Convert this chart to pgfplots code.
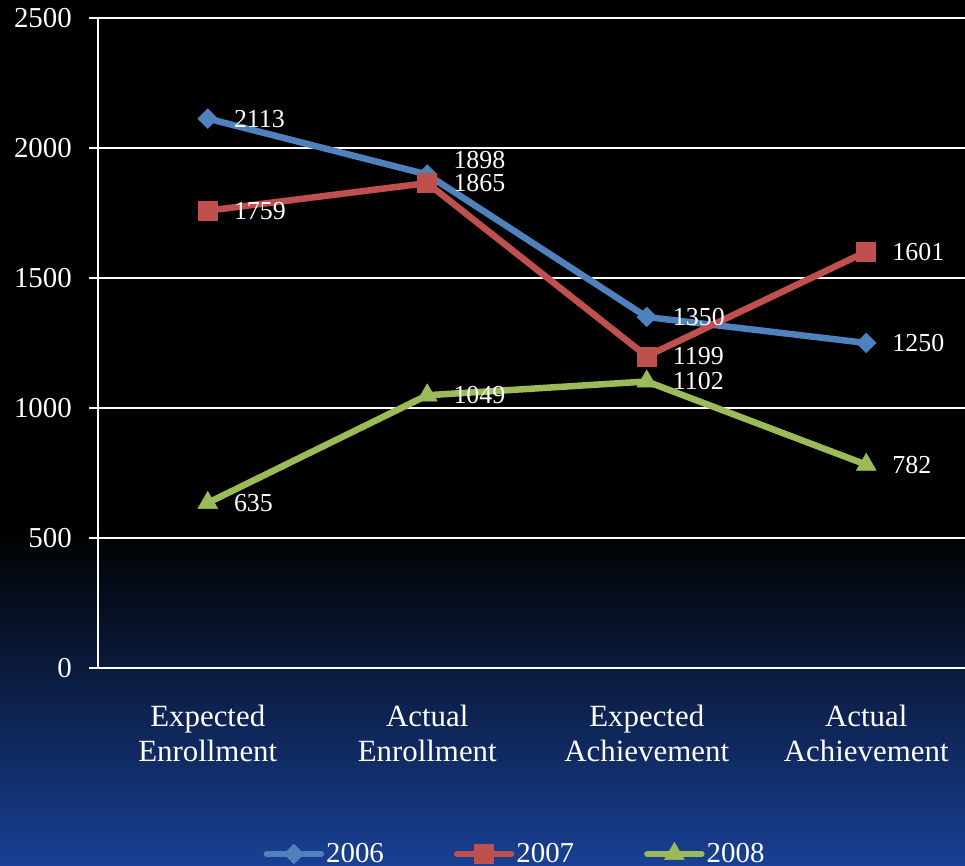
\documentclass[border=0pt]{standalone}
\usepackage{fontspec}
\setmainfont{Liberation Serif}
\usepackage{pgfplots}
\pgfplotsset{compat=1.18}
\usepackage{pgfplotstable}

\definecolor{s06}{RGB}{79,129,189}
\definecolor{s07}{RGB}{192,80,77}
\definecolor{s08}{RGB}{155,187,89}
\definecolor{bgblue}{RGB}{24,64,148}

% x = category index, dy = vertical shift of the data label
\pgfplotstableread{
x y dy
0 2113 0
1 1898 14
2 1350 0
3 1250 0
}\dataA
\pgfplotstableread{
x y dy
0 1759 0
1 1865 0
2 1199 0
3 1601 0
}\dataB
\pgfplotstableread{
x y dy
0 635 0
1 1049 0
2 1102 0
3 782 0
}\dataC

\begin{document}
\begin{tikzpicture}[x=1bp,y=1bp]
\path[use as bounding box] (0,0) rectangle (965,866);
\fill[black] (0,0) rectangle (965,866);
\shade[top color=black, bottom color=bgblue] (0,0) rectangle (965,336);
\begin{scope}
\clip (0,0) rectangle (965,866);
\begin{axis}[
  at={(98bp,198bp)}, anchor=south west,
  scale only axis, width=867bp, height=650bp,
  xmin=-0.5, xmax=3.45, ymin=0, ymax=2500,
  axis lines*=left,
  axis line style={white, line width=1.6bp},
  xtick={0,1,2,3},
  xticklabels={{Expected\\Enrollment},{Actual\\Enrollment},{Expected\\Achievement},{Actual\\Achievement}},
  minor xtick={-0.5,0.5,1.5,2.5,3.5},
  ytick={0,500,1000,1500,2000,2500},
  tick align=outside,
  major tick length=9bp,
  minor tick length=8bp,
  xtick style={draw=none},
  minor tick style={white, line width=1.6bp},
  ytick style={white, line width=1.6bp},
  ymajorgrids, grid style={white, line width=1.6bp},
  yticklabel style={font=\fontsize{29}{32}\selectfont, text=white, inner sep=0pt, anchor=east, xshift=-17bp},
  xticklabel style={font=\fontsize{31}{35}\selectfont, text=white, align=center, inner sep=0pt, anchor=north, yshift=-28bp},
  /pgf/number format/1000 sep={},
  /pgf/number format/assume math mode=true,
  every axis plot/.append style={line width=6.5bp, line join=round, line cap=round},
  nodes near coords,
  visualization depends on={\thisrow{dy} \as \dy},
  nodes near coords style={font=\fontsize{26}{28}\selectfont, text=white, anchor=west, inner sep=0pt, xshift=26bp, yshift=\dy bp},
  legend columns=3,
  legend style={at={(0.481,-0.286)}, anchor=center, fill=none, draw=none,
    font=\fontsize{29}{32}\selectfont, text=white, inner sep=0pt,
    /tikz/every even column/.append style={column sep=68bp}},
  legend image code/.code={\draw[mark repeat=2, mark phase=2, #1] plot coordinates {(0bp,0bp) (27bp,0bp) (54bp,0bp)};},
]
\addplot[s06, mark=square*, mark size=7bp, mark options={rotate=45, line width=0.5bp, fill=s06}] table[x=x, y=y] {\dataA};
\addlegendentry{2006}
\addplot[s07, mark=square*, mark size=9.5bp, mark options={line width=0.5bp, fill=s07}] table[x=x, y=y] {\dataB};
\addlegendentry{2007}
\addplot[s08, mark=triangle*, mark size=11.5bp, mark options={line width=0.5bp, fill=s08}] table[x=x, y=y] {\dataC};
\addlegendentry{2008}
\end{axis}
\end{scope}
\end{tikzpicture}
\end{document}
